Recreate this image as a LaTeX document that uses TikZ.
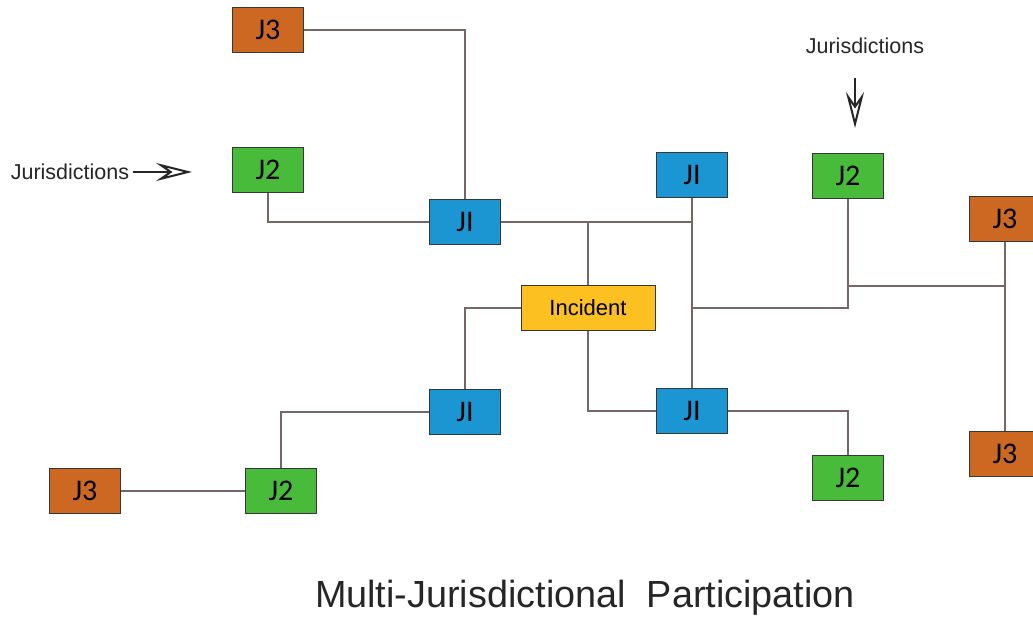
\documentclass[tikz,border=0pt]{standalone}
\usepackage{fontspec}
\setmainfont{Liberation Sans}
\newfontfamily\boxfont{Carlito}
\usetikzlibrary{
  arrows.meta,
  positioning,
  calc
}
\definecolor{jorange}{RGB}{204,104,34}
\definecolor{jgreen}{RGB}{72,188,58}
\definecolor{jblue}{RGB}{28,150,210}
\definecolor{incgold}{RGB}{252,192,32}
\definecolor{linkgray}{RGB}{118,102,102}
\definecolor{edgegray}{RGB}{55,55,55}

\begin{document}
\begin{tikzpicture}[x=1pt, y=-1pt,
  juris/.style={rectangle, draw=edgegray, line width=1pt, fill=#1,
              minimum width=71pt, minimum height=45pt, inner sep=0pt,
              font=\boxfont\fontsize{30}{32}\selectfont},
  link/.style={draw=linkgray, line width=1.3pt},
  pointer/.style={-{Stealth[open, length=36pt, width=18pt, inset=13pt]},
              line width=2pt, color=black!85},
  caption/.style={font=\fontsize{21.5}{24}\selectfont, color=black!85}
]
  \useasboundingbox (0,0) rectangle (1033,617);

  % Incident in the middle
  \node[juris=incgold, minimum width=134pt, font=\fontsize{22}{24}\selectfont]
    (inc) at (588,308) {Incident};

  % First ring: J1
  \node[juris=jblue] (J1a) at (465,222) {JI};
  \node[juris=jblue] (J1b) at (692,175) {JI};
  \node[juris=jblue] (J1c) at (465,412) {JI};
  \node[juris=jblue] (J1d) at (692,411) {JI};

  % Second ring: J2
  \node[juris=jgreen] (J2a) at (268,170) {J2};
  \node[juris=jgreen] (J2b) at (848,176) {J2};
  \node[juris=jgreen] (J2c) at (848,478) {J2};
  \node[juris=jgreen] (J2d) at (281,491) {J2};

  % Third ring: J3
  \node[juris=jorange] (J3a) at (268,30)  {J3};
  \node[juris=jorange] (J3b) at (1005,219) {J3};
  \node[juris=jorange] (J3c) at (1005,454) {J3};
  \node[juris=jorange] (J3d) at (85,491)  {J3};

  % Connectors
  \draw[link] (J3a.east) -| (J1a.north);
  \draw[link] (J2a.south) |- (J1a.west);
  \draw[link] (J1a.east) -- (J1a.east -| J1b.south);
  \draw[link] (J1b.south) -- (J1d.north);
  \draw[link] (inc.north) -- (inc.north |- J1a.east);
  \draw[link] (inc.west) -| (J1c.north);
  \draw[link] (inc.south) |- (J1d.west);
  \draw[link] (J2b.south) |- (J1b.south |- inc.east);
  \coordinate (knee) at (848,286);
  \draw[link] (knee) -- (knee -| J3b.south);
  \draw[link] (J3b.south) -- (J3c.north);
  \draw[link] (J1d.east) -| (J2c.north);
  \draw[link] (J1c.west) -| (J2d.north);
  \draw[link] (J3d.east) -- (J2d.west);

  % Pointers
  \node[caption] (lblL) at (70,172) {Jurisdictions};
  \coordinate (tipL) at (192,172);
  \draw[pointer] (lblL.east) -- (tipL);

  \node[caption] (lblT) at (865,46) {Jurisdictions};
  \coordinate (tailT) at (855,78);
  \coordinate (tipT) at (855,128);
  \draw[pointer] (tailT) -- (tipT);

  % Title
  \node[font=\fontsize{37.8}{40}\selectfont, color=black!85] (title) at (585,598)
    {Multi-Jurisdictional\ \ Participation};
\end{tikzpicture}
\end{document}
